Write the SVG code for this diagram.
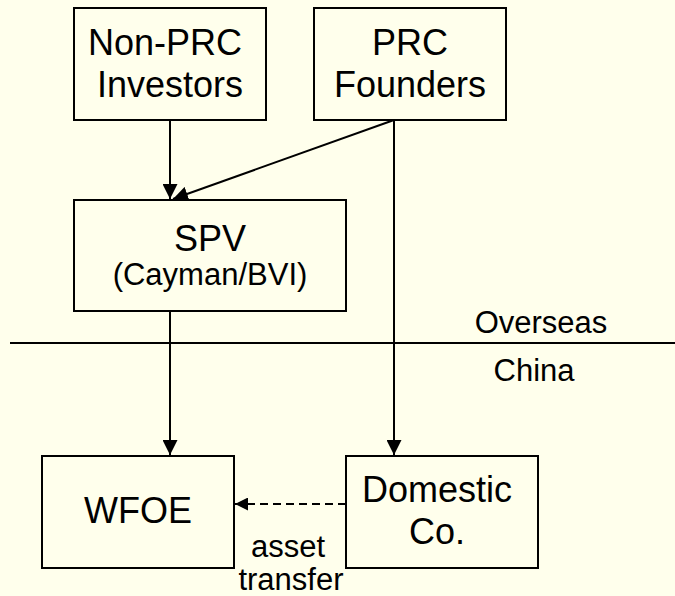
<svg xmlns="http://www.w3.org/2000/svg" width="675" height="596" viewBox="0 0 675 596">
  <style>
    .box { fill: none; stroke: #000; stroke-width: 2; }
    .edge { stroke: #000; stroke-width: 2; fill: none; }
    .dash { stroke-dasharray: 8 5; }
    text { font-family: "Liberation Sans", Arial, sans-serif; fill: #000; text-anchor: middle; }
    .big { font-size: 36px; }
    .small { font-size: 31px; }
  </style>
  <defs>
    <marker id="arrow" viewBox="0 0 10 10" refX="10" refY="5" markerWidth="7.5" markerHeight="7.5" markerUnits="strokeWidth" orient="auto">
      <path d="M0,0 L10,5 L0,10 Z" fill="#000"/>
    </marker>
    <marker id="arrow-small" viewBox="0 0 10 10" refX="10" refY="5" markerWidth="6.5" markerHeight="6.5" markerUnits="strokeWidth" orient="auto">
      <path d="M0,0 L10,5 L0,10 Z" fill="#000"/>
    </marker>
  </defs>
  <rect width="675" height="596" fill="#FFFFEC"/>

  <g id="connectors">
    <line class="edge" x1="170" y1="120" x2="170" y2="199" marker-end="url(#arrow)"/>
    <line class="edge" x1="394" y1="120" x2="173" y2="199" marker-end="url(#arrow)"/>
    <line class="edge" x1="394" y1="120" x2="394" y2="455" marker-end="url(#arrow)"/>
    <line class="edge" x1="170" y1="311" x2="170" y2="455" marker-end="url(#arrow)"/>
    <line class="edge dash" x1="346" y1="504" x2="235" y2="504" marker-end="url(#arrow-small)"/>
  </g>

  <g id="border">
    <line class="edge" x1="10" y1="343" x2="675" y2="343"/>
    <text class="small" x="541" y="333">Overseas</text>
    <text class="small" x="534" y="381">China</text>
  </g>

  <g id="non-prc-investors">
    <rect class="box" x="74" y="8" width="192" height="112"/>
    <text class="big" x="165" y="55">Non-PRC</text>
    <text class="big" x="170" y="97">Investors</text>
  </g>

  <g id="prc-founders">
    <rect class="box" x="314" y="8" width="192" height="112"/>
    <text class="big" x="410" y="55">PRC</text>
    <text class="big" x="410" y="97">Founders</text>
  </g>

  <g id="spv">
    <rect class="box" x="74" y="200" width="272" height="111"/>
    <text class="big" x="210" y="251">SPV</text>
    <text class="small" x="210" y="285">(Cayman/BVI)</text>
  </g>

  <g id="wfoe">
    <rect class="box" x="42" y="456" width="192" height="112"/>
    <text class="big" x="138" y="523">WFOE</text>
  </g>

  <g id="domestic-co">
    <rect class="box" x="346" y="456" width="192" height="112"/>
    <text class="big" x="437" y="502">Domestic</text>
    <text class="big" x="437" y="544">Co.</text>
  </g>

  <g id="asset-transfer-label">
    <text class="small" x="288" y="557">asset</text>
    <text class="small" x="291" y="590">transfer</text>
  </g>
</svg>
